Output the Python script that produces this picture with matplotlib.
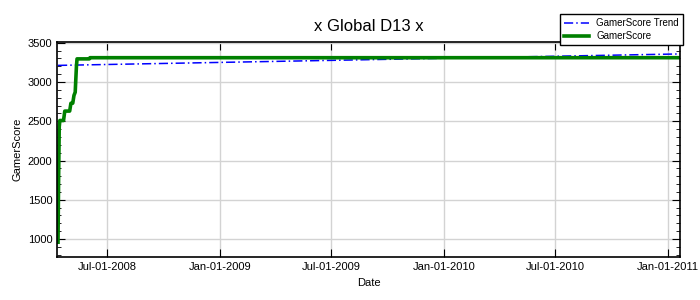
import numpy as np
import matplotlib
matplotlib.use('Agg')
import matplotlib.pyplot as plt
import matplotlib.dates as mdates
from matplotlib.ticker import MultipleLocator

plt.rcParams['font.family'] = ['Liberation Sans', 'DejaVu Sans']

# GamerScore history
score_dates = ['2008-04-12', '2008-04-13', '2008-04-14', '2008-04-15', '2008-04-21',
               '2008-04-23', '2008-05-01', '2008-05-03', '2008-05-06', '2008-05-08',
               '2008-05-10', '2008-05-12', '2008-05-13', '2008-06-02', '2008-06-03',
               '2011-01-21']
score_values = [960, 1800, 2430, 2510, 2510,
                2630, 2630, 2730, 2730, 2830,
                2870, 3200, 3295, 3295, 3310,
                3310]

# linear trend
trend_dates = ['2008-04-12', '2011-01-21']
trend_values = [3212, 3358]

xticks = ['2008-07-01', '2009-01-01', '2009-07-01', '2010-01-01', '2010-07-01', '2011-01-01']

sd = np.array(score_dates, dtype='datetime64[D]')
td = np.array(trend_dates, dtype='datetime64[D]')

fig = plt.figure(figsize=(7, 3), dpi=100)
ax = fig.add_axes([0.082, 0.143, 0.89, 0.717])

ax.plot(td, trend_values, color='#0000ff', lw=1.1, ls=(0, (6, 2, 1, 2)),
        label='GamerScore Trend')
ax.plot(sd, score_values, color='#008000', lw=2.6, label='GamerScore')

ax.set_xlim(np.datetime64('2008-04-11'), np.datetime64('2011-01-21'))
ax.set_ylim(770, 3510)
ax.set_xticks(np.array(xticks, dtype='datetime64[D]'))
ax.xaxis.set_major_formatter(mdates.DateFormatter('%b-%d-%Y'))
ax.yaxis.set_major_locator(MultipleLocator(500))
ax.yaxis.set_minor_locator(MultipleLocator(100))

ax.tick_params(which='both', direction='in', top=True, right=True, labelsize=8)
ax.tick_params(which='major', length=6)
ax.tick_params(which='minor', length=3)
ax.grid(True, color='#d3d3d3', lw=1)
ax.set_axisbelow(True)
for s in ax.spines.values():
    s.set_linewidth(1.2)

ax.set_title('x Global D13 x', fontsize=12, pad=8)
ax.set_xlabel('Date', fontsize=8)
ax.set_ylabel('GamerScore', fontsize=8)

leg = ax.legend(loc='lower left', bbox_to_anchor=(0.807, 0.985), fontsize=7,
                frameon=True, fancybox=False, edgecolor='black', framealpha=1,
                borderpad=0.4, handlelength=2.6, handletextpad=0.7,
                labelspacing=0.35, borderaxespad=0)
leg.get_frame().set_linewidth(1)

fig.savefig('out.png', dpi=100)
